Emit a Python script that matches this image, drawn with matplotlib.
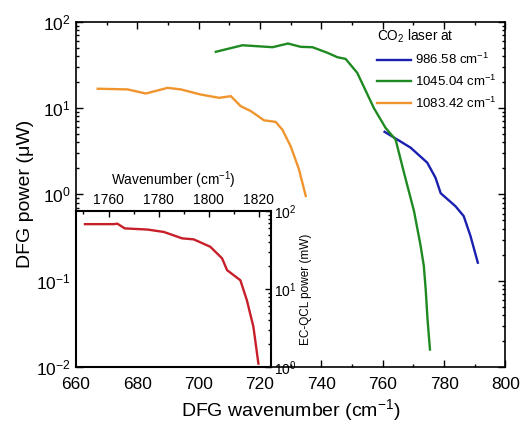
import matplotlib
matplotlib.use("Agg")
from matplotlib import pyplot as plt
from matplotlib.ticker import LogLocator, MultipleLocator, NullFormatter

plt.rcParams['font.family'] = ['Liberation Sans', 'DejaVu Sans']
plt.rcParams['mathtext.fontset'] = 'custom'
plt.rcParams['mathtext.rm'] = 'Liberation Sans'

# DFG power vs DFG wavenumber, one curve per CO2 laser line
blue_x = [760.6, 769.1, 774.5, 777.2, 778.9, 783.7, 786.4, 788.6, 791.0]
blue_y = [5.3, 3.47, 2.33, 1.56, 1.03, 0.73, 0.56, 0.33, 0.162]

green_x = [705.6, 714.3, 724.1, 729.1, 733.3, 737.1, 742.0, 745.2, 747.9, 751.7,
           757.1, 760.9, 764.2, 766.9, 770.2, 772.3, 773.4, 774.0, 774.6, 775.4]
green_y = [44.7, 53.2, 50.5, 55.7, 51, 50.5, 43.5, 38.7, 37, 25.5,
           10.0, 5.9, 4.3, 1.8, 0.64, 0.26, 0.148, 0.08, 0.036, 0.016]

orange_x = [667.1, 676.8, 682.8, 689.9, 694.2, 700.7, 706.7, 710.5, 713.7, 717.0,
            721.3, 725.1, 727.3, 730.0, 732.7, 734.9]
orange_y = [16.7, 16.4, 14.7, 17.1, 16.4, 14.3, 13.1, 13.7, 10.5, 9.2,
            7.2, 6.9, 5.6, 3.6, 1.95, 0.96]

legend_labels = ['986.58 cm$^{-1}$', '1045.04 cm$^{-1}$', '1083.42 cm$^{-1}$']

# inset: EC-QCL power vs EC-QCL wavenumber
red_x = [1750.6, 1762.2, 1763.5, 1766.5, 1775.5, 1782.1, 1789.4, 1794.0, 1800.6,
         1805.3, 1807.3, 1812.6, 1815.2, 1817.8, 1819.8]
red_y = [68, 68, 69, 60, 58, 54, 44.7, 43.4, 34.9,
         24.8, 17.5, 13.0, 7.2, 3.3, 1.11]

BLUE = '#1a1fb0'
GREEN = '#1f8a22'
ORANGE = '#f0952e'
RED = '#c71f2a'

fig = plt.figure(figsize=(5.2, 4.23), dpi=100)
ax = fig.add_axes([0.146, 0.132, 0.826, 0.817])

ax.plot(blue_x, blue_y, color=BLUE, lw=1.7, label=legend_labels[0])
ax.plot(green_x, green_y, color=GREEN, lw=1.7, label=legend_labels[1])
ax.plot(orange_x, orange_y, color=ORANGE, lw=1.7, label=legend_labels[2])

ax.set_yscale('log')
ax.set_xlim(660, 800)
ax.set_ylim(1e-2, 1e2)
ax.xaxis.set_major_locator(MultipleLocator(20))
ax.xaxis.set_minor_locator(MultipleLocator(10))
ax.yaxis.set_major_locator(LogLocator(base=10, numticks=10))
ax.yaxis.set_minor_locator(LogLocator(base=10, subs=range(2, 10), numticks=10))
ax.yaxis.set_minor_formatter(NullFormatter())
ax.tick_params(which='both', direction='in', top=True, right=True, width=1.0)
ax.tick_params(which='major', length=5, labelsize=12.5)
ax.tick_params(axis='x', which='major', pad=7)
ax.tick_params(which='minor', length=2.5)
for s in ax.spines.values():
    s.set_linewidth(1.2)

ax.set_xlabel('DFG wavenumber (cm$^{-1}$)', fontsize=14, labelpad=4)
ax.set_ylabel('DFG power (\u03bcW)', fontsize=14, labelpad=2)

leg = ax.legend(loc='upper left', bbox_to_anchor=(377 / 520, 1 - 28 / 423),
                bbox_transform=fig.transFigure, frameon=False, fontsize=9.5,
                title='CO$_2$ laser at', title_fontsize=9.8, alignment='left',
                handlelength=2.6, handletextpad=0.3, labelspacing=0.5,
                borderpad=0, borderaxespad=0)

# inset
ins = fig.add_axes([0.146, 0.132, 0.376, 0.369])
ins.plot(red_x, red_y, color=RED, lw=1.7)
ins.set_yscale('log')
ins.set_xlim(1747, 1825)
ins.set_ylim(1, 100)
ins.xaxis.set_major_locator(MultipleLocator(20))
ins.xaxis.set_minor_locator(MultipleLocator(10))
ins.yaxis.set_minor_locator(LogLocator(base=10, subs=range(2, 10), numticks=10))
ins.yaxis.set_minor_formatter(NullFormatter())
ins.xaxis.tick_top()
ins.xaxis.set_label_position('top')
ins.yaxis.tick_right()
ins.yaxis.set_label_position('right')
ins.tick_params(which='both', direction='in', width=1.0, labelsize=10, pad=2)
ins.tick_params(axis='x', pad=3)
ins.tick_params(which='major', length=4)
ins.tick_params(which='minor', length=2)
for s in ins.spines.values():
    s.set_linewidth(1.5)
ins.set_xlabel('Wavenumber (cm$^{-1}$)', fontsize=9.8, labelpad=6)
ins.set_ylabel('EC-QCL power (mW)', fontsize=8.5, labelpad=2)

fig.savefig('out.png', dpi=100)
